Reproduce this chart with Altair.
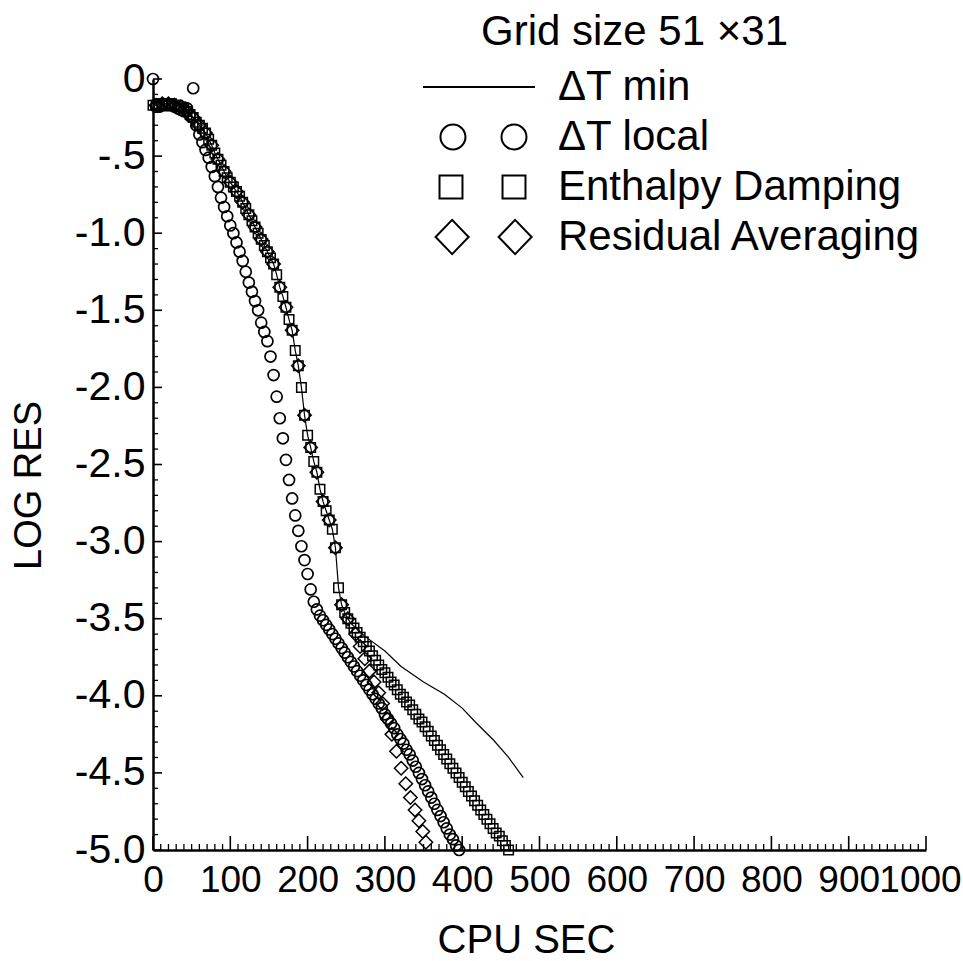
import altair as alt
import pandas as pd

FONT = "Liberation Sans, Arial, sans-serif"
W, H = 773, 771

# ---------------- data ----------------
title_text = "Grid size 51 ×31"
series_names = ["ΔT min", "ΔT local", "Enthalpy Damping", "Residual Averaging"]

# common early path (ΔT min / Enthalpy Damping / Residual Averaging overlap)
upper_x = [0, 4, 8, 12, 16, 20, 24, 28, 32, 36, 40, 44, 48, 52, 56, 60, 64, 68, 72, 76,
           80, 84, 88, 92, 96, 100, 104, 108, 112, 116, 120, 124, 128, 132, 136, 140,
           144, 148, 152, 156, 160, 164, 168, 172, 176, 180, 184, 188, 192, 196, 200,
           204, 208, 212, 216, 220, 224, 228, 232, 236, 240, 244, 248, 252, 256]
upper_y = [-0.17, -0.17, -0.16, -0.16, -0.16, -0.16, -0.16, -0.17, -0.17, -0.18, -0.19,
           -0.21, -0.23, -0.25, -0.28, -0.30, -0.32, -0.35, -0.39, -0.43, -0.48, -0.52,
           -0.56, -0.60, -0.64, -0.67, -0.70, -0.73, -0.76, -0.80, -0.84, -0.88, -0.92,
           -0.96, -1.00, -1.04, -1.08, -1.12, -1.16, -1.20, -1.27, -1.35, -1.41, -1.48,
           -1.56, -1.63, -1.76, -1.86, -2.00, -2.18, -2.31, -2.39, -2.48, -2.55, -2.66,
           -2.74, -2.80, -2.86, -2.92, -3.04, -3.30, -3.41, -3.46, -3.50, -3.53]

circ_x = [0, 4, 8, 12, 16, 20, 24, 28, 32, 36, 40, 44, 52, 48, 56, 60, 64, 68, 72, 76, 80,
          84, 88, 92, 96, 100, 104, 108, 112, 116, 120, 124, 128, 132, 136, 140, 144, 148,
          152, 156, 160, 164, 168, 172, 176, 180, 184, 188, 192, 196, 200, 204, 208, 212,
          216, 220, 224, 228, 232, 236, 240, 244, 248, 252, 256, 260, 264, 268, 272, 276,
          280, 284, 288, 292, 296, 300, 304, 308, 312, 316, 320, 324, 328, 332, 336, 340,
          344, 348, 352, 356, 360, 364, 368, 372, 376, 380, 384, 388, 392, 396]
circ_y = [0.00, -0.18, -0.18, -0.17, -0.17, -0.17, -0.17, -0.18, -0.19, -0.20, -0.21,
          -0.19, -0.06, -0.24, -0.30, -0.36, -0.41, -0.46, -0.51, -0.57, -0.63, -0.70,
          -0.77, -0.83, -0.89, -0.95, -1.00, -1.06, -1.12, -1.18, -1.25, -1.32, -1.38,
          -1.44, -1.50, -1.58, -1.64, -1.70, -1.80, -1.92, -2.06, -2.20, -2.33, -2.47,
          -2.60, -2.72, -2.83, -2.93, -3.03, -3.12, -3.21, -3.31, -3.39, -3.44, -3.48,
          -3.51, -3.54, -3.57, -3.60, -3.63, -3.66, -3.69, -3.72, -3.75, -3.78, -3.81,
          -3.84, -3.87, -3.90, -3.93, -3.96, -3.99, -4.02, -4.05, -4.08, -4.12, -4.15,
          -4.18, -4.21, -4.25, -4.28, -4.31, -4.35, -4.38, -4.42, -4.46, -4.50, -4.54,
          -4.58, -4.62, -4.66, -4.70, -4.74, -4.78, -4.82, -4.86, -4.90, -4.93, -4.97,
          -5.00]

sq_tail_x = [260, 264, 268, 272, 276, 280, 284, 288, 292, 296, 300, 304, 308, 312, 316,
             320, 324, 328, 332, 336, 340, 344, 348, 352, 356, 360, 364, 368, 372, 376,
             380, 384, 388, 392, 396, 400, 404, 408, 412, 416, 420, 424, 428, 432, 436,
             440, 444, 448, 452, 456, 460]
sq_tail_y = [-3.56, -3.59, -3.62, -3.65, -3.68, -3.71, -3.74, -3.77, -3.80, -3.83, -3.85,
             -3.88, -3.91, -3.93, -3.96, -3.99, -4.01, -4.04, -4.06, -4.09, -4.12, -4.15,
             -4.17, -4.20, -4.23, -4.26, -4.29, -4.32, -4.35, -4.38, -4.41, -4.44, -4.47,
             -4.50, -4.53, -4.56, -4.59, -4.62, -4.65, -4.68, -4.71, -4.74, -4.77, -4.80,
             -4.83, -4.86, -4.89, -4.91, -4.94, -4.97, -5.00]

dia_tail_x = [262, 268, 274, 280, 286, 292, 297, 303, 309, 315, 321, 327, 333, 339, 344,
              349, 353]
dia_tail_y = [-3.60, -3.68, -3.76, -3.84, -3.91, -3.98, -4.05, -4.15, -4.25, -4.36, -4.47,
              -4.57, -4.66, -4.74, -4.81, -4.88, -4.95]

line_tail_x = [273, 300, 321, 350, 377, 400, 417, 441, 460, 479]
line_tail_y = [-3.61, -3.71, -3.81, -3.91, -3.99, -4.08, -4.17, -4.29, -4.40, -4.53]

x_label_values = [0, 100, 200, 300, 400, 500, 600, 700, 800, 900, 1000]
y_label_values = [0, -0.5, -1.0, -1.5, -2.0, -2.5, -3.0, -3.5, -4.0, -4.5, -5.0]
x_minor_ticks = [v for v in range(0, 1001, 10) if v % 100 != 0]
y_minor_ticks = [-i / 10 for i in range(51) if i % 5 != 0]

# legend symbols (two markers / a line sample), drawn in Vega's unit square space
legend_paths = [
    "M-3.5,0L0.5,0",
    "M-2.876,0A0.446,0.446 0 1,0 -1.984,0A0.446,0.446 0 1,0 -2.876,0Z"
    "M-0.696,0A0.446,0.446 0 1,0 0.196,0A0.446,0.446 0 1,0 -0.696,0Z",
    "M-2.91,-0.41H-2.09V0.41H-2.91Z M-0.66,-0.41H0.16V0.41H-0.66Z",
    "M-3.05,0L-2.46,-0.61L-1.87,0L-2.46,0.61Z M-0.8,0L-0.21,-0.61L0.38,0L-0.21,0.61Z",
]

# ---------------- frames ----------------
df_circ = pd.DataFrame({"x": circ_x, "y": circ_y})
df_sq = pd.DataFrame({"x": upper_x + sq_tail_x, "y": upper_y + sq_tail_y})
df_dia = pd.DataFrame({"x": upper_x[1::2] + dia_tail_x, "y": upper_y[1::2] + dia_tail_y})
df_line = pd.DataFrame({"x": upper_x + line_tail_x, "y": upper_y + line_tail_y})
df_leg = pd.DataFrame({"series": series_names, "x": [None] * 4, "y": [None] * 4})
df_title = pd.DataFrame({"label": [title_text]})

xs = alt.Scale(domain=[0, 1000], nice=False, zero=False)
ys = alt.Scale(domain=[-5, 0], nice=False, zero=False)

x_axis = alt.Axis(
    values=x_label_values, format="d", ticks=False, grid=False,
    domainColor="black", domainWidth=2.5,
    labelFont=FONT, labelFontSize=37, labelColor="black", labelPadding=12,
    labelOffset={"condition": {"test": "datum.value == 1000", "value": -6}, "value": 0},
    labelFlush=False, labelOverlap=False, labelBound=False,
    title="CPU SEC", titleFont=FONT, titleFontSize=40, titleFontWeight="normal",
    titleColor="black", titleX=373, titleY=90, titleBaseline="middle", titleAlign="center",
)
y_axis = alt.Axis(
    values=y_label_values, ticks=False, grid=False,
    labelExpr="datum.value == 0 ? '0' : (datum.value == -0.5 ? '-.5' : '-' + format(abs(datum.value), '.1f'))",
    domainColor="black", domainWidth=2.5,
    labelFont=FONT, labelFontSize=41, labelColor="black", labelPadding=8,
    labelFlush=False, labelOverlap=False, labelBound=False,
    title="LOG RES", titleFont=FONT, titleFontSize=38, titleFontWeight="normal",
    titleColor="black", titleX=-124, titleY=406, titleAngle=-90,
    titleBaseline="middle", titleAlign="center",
)


def X(f):
    return alt.X(f"{f}:Q", scale=xs, axis=x_axis)


def Y(f):
    return alt.Y(f"{f}:Q", scale=ys, axis=y_axis)


xmaj = alt.Chart(pd.DataFrame({"t": x_label_values})).mark_rule(color="black", strokeWidth=1.6).encode(
    x=X("t"), y=alt.value(H), y2=alt.value(H - 14))
xmin = alt.Chart(pd.DataFrame({"t": x_minor_ticks})).mark_rule(color="black", strokeWidth=1.3).encode(
    x=X("t"), y=alt.value(H), y2=alt.value(H - 6))
ymaj = alt.Chart(pd.DataFrame({"t": y_label_values})).mark_rule(color="black", strokeWidth=1.6).encode(
    y=Y("t"), x=alt.value(0), x2=alt.value(9))
ymin = alt.Chart(pd.DataFrame({"t": y_minor_ticks})).mark_rule(color="black", strokeWidth=1.3).encode(
    y=Y("t"), x=alt.value(0), x2=alt.value(5))

line = alt.Chart(df_line).mark_line(color="black", strokeWidth=1.2).encode(x=X("x"), y=Y("y"))
circles = alt.Chart(df_circ).mark_point(shape="circle", filled=False, color="black",
                                        strokeWidth=1.7, size=121, opacity=1).encode(x=X("x"), y=Y("y"))
squares = alt.Chart(df_sq).mark_point(shape="square", filled=False, color="black",
                                      strokeWidth=1.5, size=90, opacity=1).encode(x=X("x"), y=Y("y"))
diamonds = alt.Chart(df_dia).mark_point(shape="diamond", filled=False, color="black",
                                        strokeWidth=1.5, size=180, opacity=1).encode(x=X("x"), y=Y("y"))

legend_layer = alt.Chart(df_leg).mark_point(filled=False, color="black", strokeWidth=2, opacity=1).encode(
    x=X("x"), y=Y("y"),
    shape=alt.Shape(
        "series:N",
        scale=alt.Scale(domain=series_names, range=legend_paths),
        legend=alt.Legend(
            orient="none", legendX=339, legendY=-21, title=None,
            labelFont=FONT, labelFontSize=42, labelColor="black", labelOffset=8,
            labelLimit=0, labelBaseline="middle",
            symbolSize=3136, symbolStrokeWidth=2, symbolStrokeColor="black",
            symbolFillColor="transparent", symbolOpacity=1,
            rowPadding=0, padding=0,
        ),
    ),
)

title_layer = alt.Chart(df_title).mark_text(
    align="left", baseline="alphabetic", font=FONT, fontSize=42, color="black"
).encode(x=alt.value(328), y=alt.value(-34), text="label:N")

chart = alt.layer(xmin, xmaj, ymin, ymaj, line, circles, squares, diamonds, legend_layer,
                  title_layer).properties(
    width=W, height=H,
    autosize=alt.AutoSizeParams(type="none"),
    padding={"left": 153, "top": 79, "right": 37, "bottom": 111},
    background="white",
).configure_view(strokeWidth=0)

chart.save("out.html", embed_options={"renderer": "svg", "actions": False})
